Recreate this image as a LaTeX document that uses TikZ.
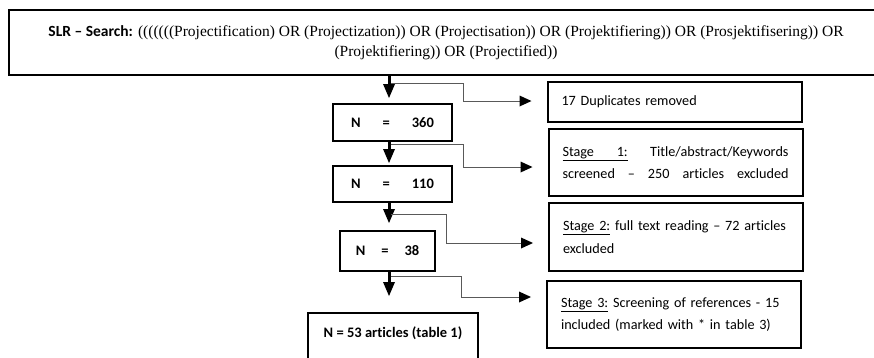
\documentclass[tikz,border=0pt]{standalone}
\usepackage{fontspec}
\setmainfont{Liberation Serif}
\newfontfamily\calibri[Ligatures={TeX,NoCommon}]{Carlito}
\usetikzlibrary{arrows.meta,positioning}

\begin{document}
\begin{tikzpicture}[x=1pt,y=-1pt]
\useasboundingbox (0,0) rectangle (874,357);

\tikzstyle{box}=[draw,line width=2pt,inner sep=0pt]
\tikzstyle{nbox}=[box,font=\calibri\bfseries\fontsize{14.5}{16}\selectfont]
\tikzstyle{sidebox}=[box,text width=226pt,inner xsep=14pt,align=left,
    font=\calibri\fontsize{14.2}{22.5}\selectfont]
\tikzstyle{mainarrow}=[line width=3pt,
    -{Triangle[length=14pt,width=12pt,line width=0pt]}]
\tikzstyle{sidearrow}=[line width=0.9pt,draw=black!65,shorten >=15pt,
    -{Triangle[length=12pt,width=11pt,line width=0pt,color=black]}]

%% search string
\node[box,line width=2.2pt,minimum width=874pt,minimum height=65pt,align=center,
    font=\fontsize{15.5}{20}\selectfont] (search) at (446,42.5)
    {{\calibri\bfseries SLR – Search:} (((((((Projectification) OR (Projectization)) OR (Projectisation)) OR (Projektifiering)) OR (Prosjektifisering)) OR\\
     (Projektifiering)) OR (Projectified))};

%% main column
\node[nbox,minimum width=119pt,minimum height=37pt] (n360) at (392.5,122.5)
    {N\hspace{22pt}=\hspace{22pt}360};
\node[nbox,minimum width=119pt,minimum height=36pt] (n110) at (392.5,184)
    {N\hspace{22pt}=\hspace{22pt}110};
\node[nbox,minimum width=95pt,minimum height=40pt] (n38) at (387.5,251)
    {N\hspace{16pt}=\hspace{16pt}38};
\node[nbox,anchor=north,minimum width=170pt,text height=24pt,text depth=45pt]
    (final) at (393,312) {N = 53 articles (table 1)};

%% side boxes
\node[sidebox,minimum height=40pt] (dup) at (674.5,102) {17 Duplicates removed};
\node[sidebox,minimum height=67pt] (stage1) at (675.5,162.5)
    {\hbox to 226pt{\underline{Stage\hspace{1.6em}1:}\hfill Title/abstract/Keywords}\\
     \hbox to 226pt{screened\hfill –\hfill 250\hfill articles\hfill excluded}};
\node[sidebox,minimum height=68pt] (stage2) at (676,237)
    {\underline{Stage 2:} full text reading – 72 articles\\ excluded};
\node[sidebox,minimum height=67pt] (stage3) at (674,314.5)
    {\underline{Stage 3:} Screening of references - 15\\ included (marked with * in table 3)};

%% arrows
\coordinate (spine) at (389,0);
\draw[mainarrow,shorten >=5pt] (spine |- search.south) -- (spine |- n360.north);
\draw[mainarrow,shorten >=2pt] (spine |- n360.south) -- (spine |- n110.north);
\draw[mainarrow,shorten >=7pt] (spine |- n110.south) -- (spine |- n38.north);
\draw[mainarrow,shorten >=16pt] (spine |- n38.south) -- (spine |- final.north);

\coordinate (b1) at (390.5,83);
\coordinate (b2) at (390.5,144);
\coordinate (b3) at (390.5,214);
\coordinate (b4) at (390.5,276);
\draw[sidearrow] (b1) -- ++(72.5,0) |- ([yshift=1pt]dup.west);
\draw[sidearrow] (b2) -- ++(72.5,0) |- ([yshift=-4.5pt]stage1.west);
\draw[sidearrow] (b3) -- ++(55.5,0) |- ([yshift=-6pt]stage2.west);
\draw[sidearrow] (b4) -- ++(70.5,0) |- ([yshift=17.5pt]stage3.west);
\end{tikzpicture}
\end{document}
